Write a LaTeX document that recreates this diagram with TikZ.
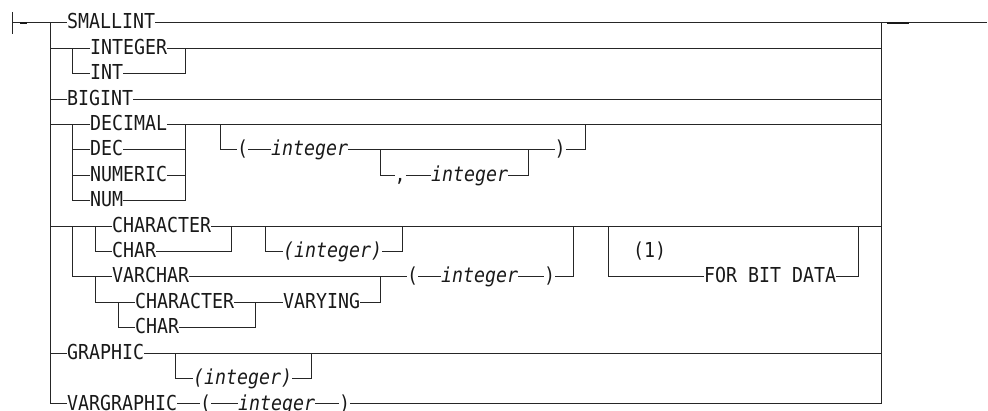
\documentclass[tikz,border=0pt]{standalone}
\usepackage{fontspec}
\newfontfamily\railfont[FakeStretch=0.887]{DejaVu Sans Mono}
\begin{document}
\begin{tikzpicture}[x=1pt,y=-1pt,
  rail/.style={line width=1pt,draw=black!85},
  kw/.style={font=\railfont\fontsize{20.6pt}{24pt}\selectfont,text=black!90,inner xsep=0pt,inner ysep=0pt,text height=15pt,text depth=3pt,anchor=west},
  arg/.style={kw,font=\railfont\itshape\fontsize{20.6pt}{24pt}\selectfont}]
\useasboundingbox (0,0) rectangle (988,411);
% rail positions
\coordinate (st) at (12,23);
\coordinate (lt) at (50,23);
\coordinate (rt) at (881,23);
\coordinate (en) at (987,23);
\coordinate (sa) at (20,23);
\coordinate (sb) at (27,23);
\coordinate (ea) at (887,23);
\coordinate (eb) at (909,23);
\coordinate (xa) at (72,0);
\coordinate (xb) at (185.5,0);
\coordinate (xc) at (220,0);
\coordinate (xd) at (585,0);
\coordinate (xe) at (380,0);
\coordinate (xf) at (528,0);
\coordinate (xg) at (95,0);
\coordinate (xh) at (231,0);
\coordinate (xi) at (265,0);
\coordinate (xj) at (402,0);
\coordinate (xk) at (573,0);
\coordinate (xl) at (608,0);
\coordinate (xm) at (858,0);
\coordinate (xn) at (118,0);
\coordinate (xo) at (255,0);
\coordinate (xp) at (175,0);
\coordinate (xq) at (311,0);
% texts
\node[kw] (smallint) at (67,23) {SMALLINT};
\node[kw] (integer) at (90,48.4) {INTEGER};
\node[kw] (int) at (90,73.8) {INT};
\node[kw] (bigint) at (67,99.2) {BIGINT};
\node[kw] (decimal) at (90,124.6) {DECIMAL};
\node[kw] (dec) at (90,150) {DEC};
\node[kw] (numeric) at (90,175.4) {NUMERIC};
\node[kw] (num) at (90,200.8) {NUM};
\node[kw] (lpA) at (237,150) {(};
\node[arg] (intA) at (271,150) {integer};
\node[kw] (rpA) at (554.5,150) {)};
\node[kw] (comma) at (394.5,175.4) {,};
\node[arg] (intB) at (431,175.4) {integer};
\node[kw] (charA) at (112,226.2) {CHARACTER};
\node[kw] (charB) at (112,251.6) {CHAR};
\node[arg] (pintA) at (283,251.6) {(integer)};
\node[kw] (fn) at (633,251.6) {(1)};
\node[kw] (forbit) at (704,277) {FOR BIT DATA};
\node[kw] (varchar) at (112,277) {VARCHAR};
\node[kw] (lpB) at (407,277) {(};
\node[arg] (intC) at (441,277) {integer};
\node[kw] (rpB) at (544,277) {)};
\node[kw] (charC) at (135,302.4) {CHARACTER};
\node[kw] (charD) at (135,327.8) {CHAR};
\node[kw] (varying) at (283,302.4) {VARYING};
\node[kw] (graphic) at (67,353.2) {GRAPHIC};
\node[arg] (pintB) at (193,378.6) {(integer)};
\node[kw] (vargraphic) at (67,404) {VARGRAPHIC};
\node[kw] (lpC) at (200,404) {(};
\node[arg] (intD) at (238,404) {integer};
\node[kw] (rpC) at (339,404) {)};
% start and end
\draw[rail] ([yshift=11pt]st) -- ([yshift=-11pt]st);
\draw[rail] (st) -- (smallint.west);
\draw[line width=1.8pt,black!90] (sa) -- (sb);
\draw[rail] (smallint.east) -- (en);
\draw[line width=1.8pt,black!90] (ea) -- (eb);
% outer rails
\draw[rail] (lt) |- (vargraphic.west);
\draw[rail] (rpC.east) -| (rt);
% INTEGER / INT
\draw[rail] (integer.west -| lt) -- (integer.west);
\draw[rail] (xa |- integer.west) |- (int.west);
\draw[rail] (int.east) -| (xb |- integer.east);
\draw[rail] (integer.east) -- (integer.east -| rt);
% BIGINT
\draw[rail] (bigint.west -| lt) -- (bigint.west);
\draw[rail] (bigint.east) -- (bigint.east -| rt);
% DECIMAL group
\draw[rail] (decimal.west -| lt) -- (decimal.west);
\draw[rail] (xa |- decimal.west) |- (num.west);
\draw[rail] (xa |- dec.west) -- (dec.west);
\draw[rail] (xa |- numeric.west) -- (numeric.west);
\draw[rail] (decimal.east) -- (decimal.east -| rt);
\draw[rail] (num.east) -| (xb |- decimal.east);
\draw[rail] (dec.east) -- (xb |- dec.east);
\draw[rail] (numeric.east) -- (xb |- numeric.east);
\draw[rail] (xc |- decimal.east) |- (lpA.west);
\draw[rail] (lpA.east) -- (intA.west);
\draw[rail] (intA.east) -- (rpA.west);
\draw[rail] (rpA.east) -| (xd |- decimal.east);
\draw[rail] (xe |- intA.east) |- (comma.west);
\draw[rail] (comma.east) -- (intB.west);
\draw[rail] (intB.east) -| (xf |- intA.east);
% CHARACTER group
\draw[rail] (charA.west -| lt) -- (charA.west);
\draw[rail] (xa |- charA.west) |- (varchar.west);
\draw[rail] (xg |- charA.west) |- (charB.west);
\draw[rail] (charB.east) -| (xh |- charA.east);
\draw[rail] (charA.east) -- (charA.east -| rt);
\draw[rail] (xi |- charA.east) |- (pintA.west);
\draw[rail] (pintA.east) -| (xj |- charA.east);
\draw[rail] (xl |- charA.east) |- (forbit.west);
\draw[rail] (forbit.east) -| (xm |- charA.east);
% VARCHAR
\draw[rail] (varchar.east) -- (lpB.west);
\draw[rail] (lpB.east) -- (intC.west);
\draw[rail] (intC.east) -- (rpB.west);
\draw[rail] (rpB.east) -| (xk |- charA.east);
\draw[rail] (xg |- varchar.west) |- (charC.west);
\draw[rail] (xn |- charC.west) |- (charD.west);
\draw[rail] (charD.east) -| (xo |- charC.east);
\draw[rail] (charC.east) -- (varying.west);
\draw[rail] (varying.east) -| (xe |- varchar.east);
% GRAPHIC
\draw[rail] (graphic.west -| lt) -- (graphic.west);
\draw[rail] (graphic.east) -- (graphic.east -| rt);
\draw[rail] (xp |- graphic.east) |- (pintB.west);
\draw[rail] (pintB.east) -| (xq |- graphic.east);
% VARGRAPHIC
\draw[rail] (vargraphic.east) -- (lpC.west);
\draw[rail] (lpC.east) -- (intD.west);
\draw[rail] (intD.east) -- (rpC.west);
\end{tikzpicture}
\end{document}
